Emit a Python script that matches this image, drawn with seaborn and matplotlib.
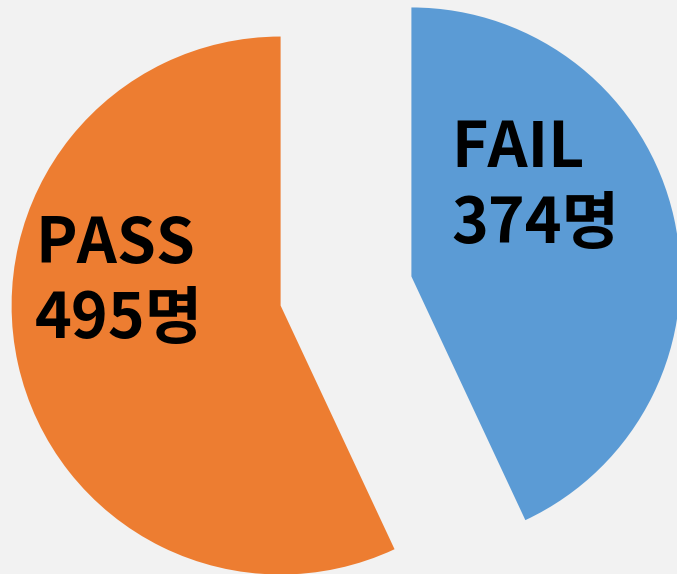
import matplotlib
matplotlib.use('Agg')
import matplotlib.pyplot as plt
import seaborn as sns

# data
categories = ['FAIL', 'PASS']
counts = [374, 495]
colors = ['#5B9BD5', '#ED7D31']

sns.set_theme(style='white')
plt.rcParams['font.family'] = ['Noto Sans CJK KR', 'DejaVu Sans']

W, H = 677, 574
fig = plt.figure(figsize=(W / 100, H / 100), dpi=100, facecolor='#F2F2F2')
ax = fig.add_axes([0, 0, 1, 1])
ax.set_facecolor('#F2F2F2')

# explode is given in data units (pixels here)
ax.pie(counts, colors=colors, startangle=90, counterclock=False,
       explode=[67, 67], center=(346, 283), radius=269,
       wedgeprops=dict(linewidth=0), frame=True)

ax.set_xlim(0, W)
ax.set_ylim(0, H)
ax.set_aspect('equal')
ax.axis('off')

# labels: name on first line, count on second
label_pos = {'FAIL': (451, 407, 331), 'PASS': (35, 311, 236)}
for cat, n in zip(categories, counts):
    x, y1, y2 = label_pos[cat]
    ax.text(x, y1, cat, fontsize=45, fontweight='bold', color='black',
            ha='left', va='baseline')
    ax.text(x, y2, f'{n}명', fontsize=45, fontweight='bold', color='black',
            ha='left', va='baseline')

fig.savefig('out.png', dpi=100, facecolor=fig.get_facecolor())
